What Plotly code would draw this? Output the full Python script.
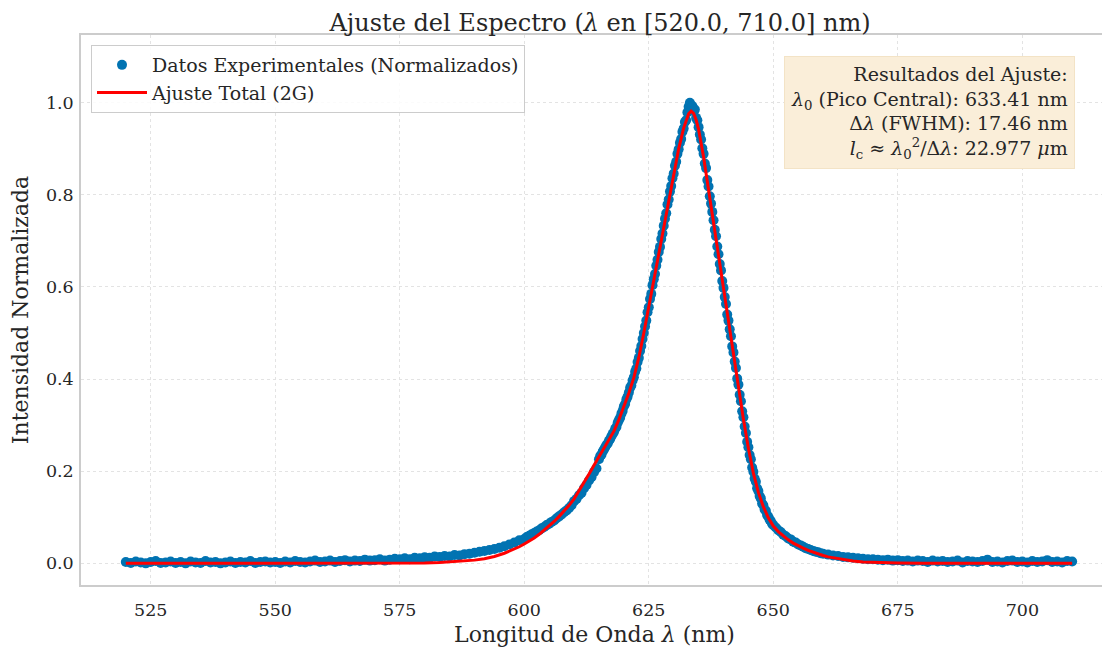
import numpy as np
import plotly.graph_objects as go

# ---------------- data ----------------
# Experimental points, sampled on segments of the wavelength grid
wl_seg_a = np.arange(520.0, 600.0, 1.0)      # 520 .. 599
int_seg_a = [
    0.003, 0.001, 0.004, 0.002, 0.000, 0.003, 0.005, 0.001, 0.002, 0.004,
    0.001, 0.003, 0.000, 0.004, 0.002, 0.001, 0.005, 0.002, 0.003, 0.000,
    0.002, 0.004, 0.001, 0.003, 0.002, 0.005, 0.001, 0.003, 0.004, 0.002,
    0.003, 0.001, 0.004, 0.002, 0.005, 0.003, 0.002, 0.004, 0.006, 0.003,
    0.004, 0.006, 0.003, 0.005, 0.007, 0.004, 0.006, 0.005, 0.008, 0.006,
    0.007, 0.009, 0.006, 0.008, 0.010, 0.009, 0.011, 0.009, 0.012, 0.011,
    0.013, 0.012, 0.015, 0.014, 0.016, 0.015, 0.018, 0.017, 0.020, 0.021,
    0.023, 0.025, 0.027, 0.029, 0.031, 0.034, 0.037, 0.041, 0.045, 0.050,
]
wl_seg_b = np.arange(600.0, 615.0, 0.5)      # 600 .. 614.5
int_seg_b = [
    0.053, 0.057, 0.060, 0.063, 0.066, 0.069, 0.072, 0.076, 0.079, 0.083,
    0.086, 0.090, 0.093, 0.098, 0.102, 0.106, 0.111, 0.115, 0.120, 0.126,
    0.135, 0.140, 0.148, 0.153, 0.163, 0.170, 0.180, 0.187, 0.198, 0.206,
]
wl_seg_c = np.arange(615.0, 650.0, 0.25)     # 615 .. 649.75
int_seg_c = [
    0.226, 0.233, 0.236, 0.243, 0.247, 0.252, 0.257, 0.260, 0.266, 0.270,
    0.276, 0.281, 0.285, 0.292, 0.296, 0.305, 0.311, 0.316, 0.325, 0.331,
    0.341, 0.346, 0.356, 0.362, 0.371, 0.381, 0.386, 0.397, 0.404, 0.416,
    0.423, 0.437, 0.446, 0.461, 0.472, 0.487, 0.500, 0.514, 0.527, 0.545,
    0.556, 0.574, 0.585, 0.604, 0.617, 0.628, 0.646, 0.659, 0.676, 0.687,
    0.704, 0.716, 0.733, 0.748, 0.760, 0.779, 0.790, 0.807, 0.819, 0.836,
    0.846, 0.863, 0.872, 0.889, 0.899, 0.913, 0.921, 0.937, 0.944, 0.958,
    0.962, 0.979, 0.991, 1.000, 0.987, 0.993, 0.982, 0.985, 0.967, 0.962,
    0.947, 0.931, 0.920, 0.901, 0.889, 0.868, 0.858, 0.832, 0.818, 0.797,
    0.781, 0.763, 0.745, 0.724, 0.710, 0.688, 0.671, 0.650, 0.636, 0.613,
    0.598, 0.578, 0.563, 0.540, 0.527, 0.508, 0.493, 0.471, 0.458, 0.438,
    0.424, 0.401, 0.388, 0.366, 0.352, 0.330, 0.317, 0.297, 0.283, 0.264,
    0.252, 0.235, 0.226, 0.208, 0.199, 0.184, 0.177, 0.163, 0.157, 0.146,
    0.141, 0.130, 0.126, 0.117, 0.114, 0.105, 0.101, 0.095, 0.092, 0.086,
]
wl_seg_d = np.arange(650.0, 660.0, 0.5)      # 650 .. 659.5
int_seg_d = [
    0.083, 0.078, 0.072, 0.068, 0.062, 0.059, 0.054, 0.052, 0.047, 0.045,
    0.041, 0.039, 0.036, 0.033, 0.031, 0.029, 0.027, 0.025, 0.024, 0.022,
]
wl_seg_e = np.arange(660.0, 711.0, 1.0)      # 660 .. 710
int_seg_e = [
    0.021, 0.019, 0.017, 0.016, 0.014, 0.013, 0.012, 0.011, 0.010, 0.009,
    0.009, 0.008, 0.007, 0.008, 0.006, 0.007, 0.005, 0.006, 0.004, 0.006,
    0.005, 0.003, 0.006, 0.004, 0.005, 0.003, 0.004, 0.006, 0.002, 0.005,
    0.004, 0.003, 0.005, 0.008, 0.003, 0.004, 0.002, 0.005, 0.006, 0.003,
    0.004, 0.002, 0.005, 0.003, 0.004, 0.007, 0.003, 0.004, 0.002, 0.005,
    0.004,
]

# Two-Gaussian total fit curve
fit_wl = [
    520, 540, 560, 570, 575, 580, 583, 586, 588, 590, 592, 594, 596, 598, 599,
    600, 601, 602, 603, 604, 605, 606, 607, 608, 609, 610, 611, 612, 613, 614,
    615, 616, 617, 618, 619, 620, 621, 622, 623, 624, 625, 626, 627, 628, 629,
    630, 631, 632, 632.5, 633, 633.5, 634, 634.5, 635, 636, 637, 638, 639, 640,
    641, 642, 643, 644, 645, 646, 647, 648, 649, 650, 651, 652, 653, 654, 655,
    656, 657, 658, 659, 660, 661, 662, 663, 664, 666, 668, 670, 675, 680, 690,
    700, 710,
]
fit_int = [
    0.000, 0.000, 0.000, 0.000, 0.0005, 0.001, 0.002, 0.004, 0.005, 0.007,
    0.010, 0.015, 0.022, 0.031, 0.036,
    0.042, 0.048, 0.055, 0.063, 0.072, 0.081, 0.091, 0.102, 0.113, 0.126,
    0.140, 0.157, 0.175, 0.194, 0.213,
    0.231, 0.250, 0.268, 0.287, 0.312, 0.340, 0.370, 0.403, 0.447, 0.500,
    0.558, 0.616, 0.674, 0.732, 0.792,
    0.848, 0.900, 0.945, 0.963, 0.976, 0.982, 0.977, 0.963, 0.942, 0.882,
    0.810, 0.737, 0.664, 0.593,
    0.524, 0.456, 0.385, 0.313, 0.250, 0.196, 0.154, 0.123, 0.099, 0.081,
    0.069, 0.059, 0.051, 0.044, 0.038,
    0.033, 0.028, 0.024, 0.020, 0.017, 0.014, 0.012, 0.010, 0.008, 0.005,
    0.003, 0.002, 0.001, 0.000, 0.000,
    0.000, 0.000,
]

x_ticks = [525, 550, 575, 600, 625, 650, 675, 700]
y_ticks = [0.0, 0.2, 0.4, 0.6, 0.8, 1.0]

result_lines = [
    "Resultados del Ajuste:",
    "<i>λ</i><sub>0</sub> (Pico Central): 633.41 nm",
    "Δ<i>λ</i> (FWHM): 17.46 nm",
    "<i>l</i><sub>c</sub> ≈ <i>λ</i><sub>0</sub><sup>2</sup>/Δ<i>λ</i>: 22.977 <i>μ</i>m",
]

# ---------------- figure ----------------
wl_data = np.concatenate([wl_seg_a, wl_seg_b, wl_seg_c, wl_seg_d, wl_seg_e])
int_data = np.array(int_seg_a + int_seg_b + int_seg_c + int_seg_d + int_seg_e)

FONT = "DejaVu Serif"
TXT = "#262626"
BLUE = "#0173B2"

# the page body has an 8px margin, so the figure starts at (8, 8)
OFF = 8
FIG_W, FIG_H = 1110 - OFF, 650 - OFF
PL, PT, PR, PB = 81 - OFF, 35 - OFF, 1108 - OFF, 585 - OFF   # plot box in figure px
PW, PH = PR - PL, PB - PT

fig = go.Figure()
fig.add_trace(go.Scatter(
    x=wl_data, y=int_data, mode="markers",
    name="Datos Experimentales (Normalizados)",
    marker=dict(color=BLUE, size=10, line=dict(width=0)),
))
fig.add_trace(go.Scatter(
    x=fit_wl, y=fit_int, mode="lines",
    name="Ajuste Total (2G)",
    line=dict(color="#FF0000", width=3),
))

axis_common = dict(
    showgrid=True, gridcolor="#e3e3e3", griddash="dot", gridwidth=1,
    zeroline=False, showline=True, linecolor="#cccccc", linewidth=1.5,
    mirror=True, ticks="", automargin=False,
    tickfont=dict(family=FONT, size=17.5, color=TXT),
)

fig.update_layout(
    width=FIG_W, height=FIG_H,
    margin=dict(l=PL, r=FIG_W - PR, t=PT, b=FIG_H - PB),
    paper_bgcolor="white", plot_bgcolor="white",
    font=dict(family=FONT, color=TXT),
    title=dict(
        text="Ajuste del Espectro (<i>λ</i> en [520.0, 710.0] nm)",
        x=(600 - 81) / PW, xref="paper", xanchor="center",
        y=1 - (22.5 - OFF) / FIG_H, yanchor="middle",
        font=dict(family=FONT, size=24, color=TXT),
    ),
    xaxis=dict(
        range=[511.0, 717.2], tickvals=x_ticks, ticklabelstandoff=8,
        title=dict(text="Longitud de Onda <i>λ</i> (nm)",
                   font=dict(family=FONT, size=22, color=TXT), standoff=8),
        **axis_common,
    ),
    yaxis=dict(
        range=[-0.047, 1.147], tickvals=y_ticks, tickformat=".1f",
        ticklabelstandoff=2,
        title=dict(text="Intensidad Normalizada",
                   font=dict(family=FONT, size=22, color=TXT), standoff=15),
        **axis_common,
    ),
    legend=dict(
        x=(91 - 81) / PW, y=1 - (45 - 35) / PH, xanchor="left", yanchor="top",
        bgcolor="rgba(255,255,255,0.85)", bordercolor="#cccccc", borderwidth=1,
        font=dict(family=FONT, size=19, color=TXT),
        itemwidth=50,
    ),
    showlegend=True,
)

fig.add_annotation(
    text="<br>".join(result_lines),
    xref="paper", yref="paper",
    x=(1075 - 81) / PW, y=1 - (56 - 35) / PH,
    xanchor="right", yanchor="top", align="right",
    showarrow=False,
    font=dict(family=FONT, size=19, color=TXT),
    bgcolor="#FAEED9", bordercolor="#F3E3C6", borderwidth=1, borderpad=6,
)

fig.write_html("out.html")
